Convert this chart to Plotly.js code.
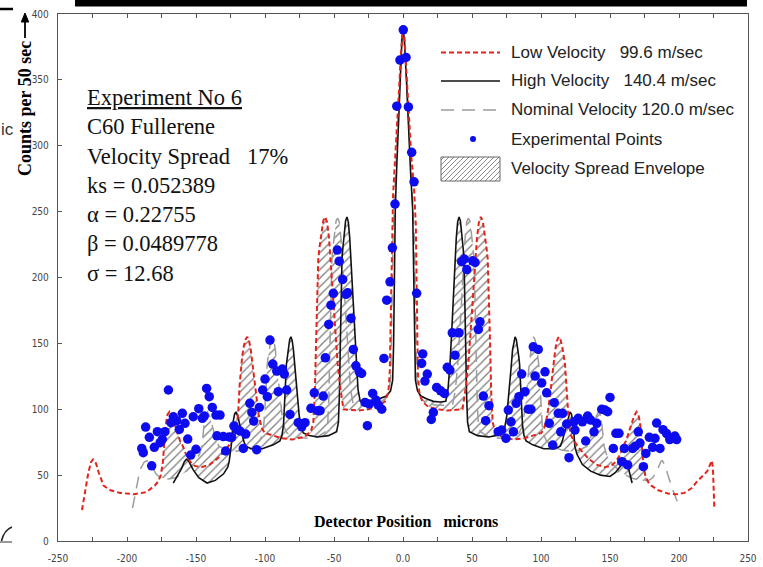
<!DOCTYPE html>
<html>
<head>
<meta charset="utf-8">
<script src="https://cdn.plot.ly/plotly-3.0.1.min.js"></script>
<style>
  html, body { margin: 0; padding: 0; background: #fff; }
  #chart { width: 763px; height: 567px; }
</style>
</head>
<body>
<div id="chart"></div>
<script>
// Detector position (microns) vs counts per 50 s, C60 fullerene run No 6.

// Low velocity (99.6 m/s) curve: [position, counts]
const lowVelocity = [[-232.6,23.5],[-230,40],[-228,52],[-226,60],[-224.6,62],[-222.5,59],[-220.5,52],[-217,42],[-212,38.5],[-205,36.5],[-195,35.5],[-186,37],[-180,42],[-177.5,45],[-175.5,50],[-174,60],[-173,75],[-172,88],[-170.6,96],[-169.2,98],[-167.5,95],[-165.7,89],[-163.6,82],[-161.6,76],[-159.5,72],[-157,65],[-154,60],[-151,57],[-146,56],[-140,58],[-134,63],[-128,70],[-123.9,76],[-121.8,80],[-120.3,88],[-119.3,100],[-118.4,118],[-117.4,134],[-116.55,140],[-115.3,148],[-114.05,153],[-112.8,155],[-111.55,152],[-110.3,145],[-108.6,130],[-106.5,110],[-104.5,95],[-102.4,86],[-100.3,82],[-94,80],[-88,78],[-80,77],[-72,79],[-66.8,83],[-65,90],[-64,110],[-63.1,150],[-62.2,190],[-61.4,214],[-60.6,222],[-59.2,234],[-57.8,243],[-56.4,246],[-55,242],[-53.6,230],[-51.5,200],[-49.4,165],[-47.4,135],[-45.3,115],[-43.1,100],[-38,99.5],[-32,99],[-25,100],[-18,102],[-13,106],[-10.6,113],[-9.6,128],[-9.1,160],[-8.6,200],[-8,240],[-7.2,262],[-6,285],[-4.5,310],[-3,340],[-1.5,370],[-0.5,384],[0,388],[1,383],[2.5,358],[4,325],[6,292],[8,268],[9.3,240],[9.8,200],[10.3,160],[10.8,128],[11.8,113],[14,106],[18,102],[25,100],[32,99],[38,99.5],[43.1,100],[45.3,115],[47.4,135],[49.4,165],[51.5,200],[53.6,230],[55,242],[56.4,246],[57.8,243],[59.2,234],[60.6,222],[61.4,214],[62.2,190],[63.1,150],[64,110],[65,90],[66.8,83],[72,79],[80,77],[88,78],[94,80],[100.3,82],[102.4,86],[104.5,95],[106.5,110],[108.6,130],[110.3,145],[111.55,152],[112.8,155],[114.05,153],[115.3,148],[116.55,140],[117.4,134],[118.4,118],[119.3,100],[120.3,88],[121.8,80],[123.9,76],[128,70],[134,63],[140,58],[146,56],[151,57],[154,60],[157,65],[159.5,72],[161.6,76],[163.6,82],[165.7,89],[167.5,95],[169.2,98],[170.6,96],[172,88],[173,75],[174,60],[175.5,50],[177.5,45],[180,42],[185,38.5],[192,36],[198,35.5],[204,36.5],[209,40],[213,45],[217,49],[220.5,53],[222.5,58],[223.8,61],[224.6,55],[225.2,40],[225.6,25]];

// High velocity (140.4 m/s) curve
const highVelocity = [[-166.5,44],[-163.5,49],[-160.5,55],[-158.5,60],[-157,62],[-155.5,61],[-154,58],[-152,54],[-148,48],[-142,44],[-136,46],[-130,51],[-127,56],[-126,60],[-124.5,72],[-123.7,84],[-123,91],[-122,96.5],[-121,98],[-119.8,95],[-118.5,89],[-117,82],[-115.5,76],[-114,72],[-110,70],[-102,70],[-94,73],[-89.2,76],[-87.7,80],[-86.6,88],[-85.9,100],[-85.2,118],[-84.5,134],[-83.9,140],[-83,148],[-82.1,153],[-81.2,155],[-80.3,152],[-79.4,145],[-78.2,130],[-76.7,110],[-75.2,95],[-73.7,86],[-72.2,82],[-68,80],[-62,79],[-54,80],[-48.1,83],[-46.8,90],[-46.1,110],[-45.4,150],[-44.8,190],[-44.2,214],[-43.6,222],[-42.6,234],[-41.6,243],[-40.6,246],[-39.6,242],[-38.6,230],[-37.1,200],[-35.6,165],[-34.1,135],[-32.6,115],[-31,106],[-27,105.5],[-22,106],[-17,108],[-12,110],[-9,114],[-7.5,122],[-6.8,150],[-6.3,200],[-5.6,252],[-4.5,285],[-3.2,320],[-2,352],[-0.8,380],[0,388],[1,380],[2.5,350],[4,312],[5.5,280],[7,252],[7.8,200],[8.3,150],[9,122],[10.5,114],[13,110],[17,108],[22,106],[27,105.5],[31,106],[32.6,115],[34.1,135],[35.6,165],[37.1,200],[38.6,230],[39.6,242],[40.6,246],[41.6,243],[42.6,234],[43.6,222],[44.2,214],[44.8,190],[45.4,150],[46.1,110],[46.8,90],[48.1,83],[54,80],[62,79],[68,80],[72.2,82],[73.7,86],[75.2,95],[76.7,110],[78.2,130],[79.4,145],[80.3,152],[81.2,155],[82.1,153],[83,148],[83.9,140],[84.5,134],[85.2,118],[85.9,100],[86.6,88],[87.7,80],[89.2,76],[94,73],[102,70],[110,70],[114,72],[115.5,76],[117,82],[118.5,89],[119.8,95],[121,98],[122,96.5],[123,91],[123.7,84],[124.5,72],[126,66],[128,62],[130,58],[136,53],[143,50],[150,49],[154,52],[157,56],[159.5,60],[161,62],[162.3,60],[163.5,54],[165,48],[166,44]];

// Nominal velocity (120.0 m/s) curve
const nominalVelocity = [[-196,25],[-193,42],[-190.6,54],[-187.5,60],[-185.5,61],[-183.5,59],[-181.5,55],[-179,51],[-176,48],[-170,47],[-165,48],[-158,52],[-152.1,58],[-149.8,62],[-147.4,66],[-145.7,72],[-144.7,84],[-143.9,91],[-142.8,96.5],[-141.6,98],[-140.2,95],[-138.7,89],[-136.9,82],[-135.2,76],[-133.4,72],[-128,69],[-122,68],[-115,69],[-108,72],[-103.9,76],[-102.2,80],[-100.9,88],[-100.1,100],[-99.3,118],[-98.4,134],[-97.7,140],[-96.7,148],[-95.6,153],[-94.6,155],[-93.6,152],[-92.5,145],[-91.1,130],[-89.4,110],[-87.6,95],[-85.9,86],[-84.1,82],[-78,79],[-70,78],[-62,79],[-56,83],[-54.5,90],[-53.7,110],[-52.9,150],[-52.2,190],[-51.5,214],[-50.8,222],[-49.6,234],[-48.5,243],[-47.3,245],[-46.1,242],[-45,230],[-43.2,200],[-41.5,165],[-39.7,135],[-38,115],[-36.1,104],[-32,103],[-25,103],[-18,104],[-13,108],[-10,114],[-8.9,125],[-8.3,150],[-7.8,190],[-7.2,230],[-6.3,260],[-5,287],[-3.8,318],[-2.5,350],[-1,381],[0,388],[1,381],[2.5,352],[4,318],[5.5,285],[7,258],[8.2,230],[8.8,190],[9.3,150],[9.9,125],[11,114],[13,108],[18,104],[25,103],[32,103],[36.1,104],[38,115],[39.7,135],[41.5,165],[43.2,200],[45,230],[46.1,242],[47.3,245],[48.5,243],[49.6,234],[50.8,222],[51.5,214],[52.2,190],[52.9,150],[53.7,110],[54.5,90],[56,83],[62,79],[70,78],[78,79],[84.1,82],[85.9,86],[87.6,95],[89.4,110],[91.1,130],[92.5,145],[93.6,152],[94.6,155],[95.6,153],[96.7,148],[97.7,140],[98.4,134],[99.3,118],[100.1,100],[100.9,88],[102.2,80],[103.9,76],[108,72],[115,69],[122,68],[128,69],[133.4,72],[135.2,76],[136.9,82],[138.7,89],[140.2,95],[141.6,98],[142.8,96.5],[143.9,91],[144.7,84],[145.7,72],[147.4,66],[149.8,62],[152.1,58],[158,52],[165,48],[172,46],[178,46],[181,48],[183.5,52],[185.5,57],[187,60.5],[188,61],[189.5,58],[192,50],[195,40],[198,32],[200,27]];

// Velocity spread envelope: upper and lower edges, left lobe then right lobe (null between)
const envelopeUpper = [[-177.5,45],[-175.5,50],[-174,60],[-173,75],[-172,88],[-170.6,96],[-169.2,98],[-167.5,95],[-165.7,89],[-163.6,82],[-161.6,76],[-159.5,72],[-157,65],[-154,60],[-152.1,58],[-149.8,62],[-147.4,66],[-145.7,72],[-144.7,84],[-143.9,91],[-142.8,96.5],[-141.6,98],[-140.2,95],[-138.7,89],[-136.9,82],[-135.2,76],[-133.4,72],[-128,70],[-126,72],[-124.5,75],[-123.7,84],[-123,91],[-122,96.5],[-121,98],[-120.1,96],[-119.3,100],[-118.4,118],[-117.4,134],[-116.55,140],[-115.3,148],[-114.05,153],[-112.8,155],[-111.55,152],[-110.3,145],[-108.6,130],[-106.5,110],[-104.5,95],[-102.4,86],[-101.8,84],[-100.9,88],[-100.1,100],[-99.3,118],[-98.4,134],[-97.7,140],[-96.7,148],[-95.6,153],[-94.6,155],[-93.6,152],[-92.5,145],[-91.1,130],[-89.4,110],[-87.6,95],[-86.5,90],[-85.9,100],[-85.2,118],[-84.5,134],[-83.9,140],[-83,148],[-82.1,153],[-81.2,155],[-80.3,152],[-79.4,145],[-78.2,130],[-76.7,110],[-75.2,95],[-73.7,86],[-72.2,82],[-68,81],[-66.8,83],[-65,90],[-64,110],[-63.1,150],[-62.2,190],[-61.4,214],[-60.6,222],[-59.2,234],[-57.8,243],[-56.4,246],[-55,242],[-53.6,230],[-51.9,204],[-51.5,214],[-50.8,222],[-49.6,234],[-48.5,243],[-47.3,245],[-46.1,242],[-45,230],[-44.1,216],[-43.6,222],[-42.6,234],[-41.6,243],[-40.6,246],[-39.6,242],[-38.6,230],[-37.1,200],[-35.6,165],[-34.1,135],[-32.6,115],[-31,106],[-27,105.5],[-22,106],[-17,108],[-12,110],
  null,
  [11.8,113],[13,110],[17,108],[22,106],[27,105.5],[31,106],[32.6,115],[34.1,135],[35.6,165],[37.1,200],[38.6,230],[39.6,242],[40.6,246],[41.6,243],[42.6,234],[43.6,222],[44.1,216],[45,230],[46.1,242],[47.3,245],[48.5,243],[49.6,234],[50.8,222],[51.5,214],[51.9,204],[53.6,230],[55,242],[56.4,246],[57.8,243],[59.2,234],[60.6,222],[61.4,214],[62.2,190],[63.1,150],[64,110],[65,90],[66.8,83],[68,81],[72.2,82],[73.7,86],[75.2,95],[76.7,110],[78.2,130],[79.4,145],[80.3,152],[81.2,155],[82.1,153],[83,148],[83.9,140],[84.5,134],[85.2,118],[85.9,100],[86.5,90],[87.6,95],[89.4,110],[91.1,130],[92.5,145],[93.6,152],[94.6,155],[95.6,153],[96.7,148],[97.7,140],[98.4,134],[99.3,118],[100.1,100],[100.9,88],[101.8,84],[102.4,86],[104.5,95],[106.5,110],[108.6,130],[110.3,145],[111.55,152],[112.8,155],[114.05,153],[115.3,148],[116.55,140],[117.4,134],[118.4,118],[119.3,100],[120.1,96],[121,98],[122,96.5],[123,91],[123.7,84],[124.5,75],[126,72],[128,70],[133.4,72],[135.2,76],[136.9,82],[138.7,89],[140.2,95],[141.6,98],[142.8,96.5],[143.9,91],[144.7,84],[145.7,72],[147.4,66],[149.8,62],[152.1,58],[154,60],[157,65],[159.5,72],[161.6,76],[163.6,82],[165.7,89],[167.5,95],[169.2,98],[170.6,96],[172,88],[173,75],[174,60],[175.5,50],[177.5,45]];

const envelopeLower = [[-177.5,45],[-176,48],[-170,47],[-165,48],[-158,52],[-154.5,55.5],[-152,54],[-148,48],[-142,44],[-136,46],[-130,51],[-127,56],[-126,60],[-124.5,68],[-122,68],[-115,69],[-110,69.5],[-102,70],[-94,73],[-89.2,76],[-88,77.5],[-80,77],[-72,79],[-68,79],[-62,79],[-54,80],[-48.1,83],[-46.8,90],[-46.1,110],[-45.4,117],[-44.5,110],[-43.1,100],[-38,99.5],[-32,99],[-25,100],[-18,102],[-12,108],
  null,
  [11.8,112],[14,106],[18,102],[25,100],[32,99],[38,99.5],[43.1,100],[44.5,110],[45.4,117],[46.1,110],[46.8,90],[48.1,83],[54,80],[62,79],[68,79],[72,79],[80,77],[88,77.5],[89.2,76],[94,73],[102,70],[110,69.5],[115,69],[122,68],[124.5,68],[126,66],[128,62],[130,58],[136,53],[143,50],[150,49],[154,52],[158,52],[165,48],[172,46],[177.5,45]];

// Experimental counts
const experimentalPoints = [[0.2,388],[-2.2,365],[2.2,367],[3.9,329.5],[-4.5,330],[6.3,295],[8,272.6],[-5.8,255.7],[-7.7,222.5],[-9.4,196.7],[9.9,188],[-11.8,182.8],[-13.8,138.6],
  [14.3,142],[13.5,134.8],[17.6,126.7],[15.9,121.4],[24.4,116.6],[27.3,114],[30,112],[22,97.6],[20.5,92.3],[32.1,131.8],[34,129.7],[37.7,141],[35.7,158],[40.6,158],[42.5,212],[44.4,214],[46.2,206],[50.5,212.7],[52.2,211.4],[55.8,166.4],[54.6,160.6],[58.2,110],[62.3,102.7],[59.9,91.3],[69,83],[71.5,84.2],[74.6,77.9],[76.3,99.4],[78.3,90.5],[80,82.9],[82,104.5],[84,109.5],[86,126.7],[88.4,113.3],[90.8,100],[92.7,100],[94.4,147.4],[98,145.4],[95.7,125.2],[100.5,120],[102.9,128.4],[104.1,112.5],[109.6,105],[106,89.3],[108.5,72.8],[112.5,96.9],[115.7,96.9],[114.3,82.9],[118.6,88.8],[124.6,84.2],[120.3,63.2],[123.9,90.5],[127,93.1],[130,90.5],[133.8,94.8],[136,91.8],[138.4,82.9],[140.4,89.3],[144,100],[146.4,99.4],[148.3,98.1],[150,109],[132.4,75.9],[152.4,70.3],[154.3,81.7],[156.5,81.7],[158.5,60.2],[162.8,57.7],[160.4,70.3],[166.4,70.3],[168.3,72],[171.7,74.3],[170.5,82.9],[174.2,56.4],[176,66.5],[178.5,78.7],[182.6,77.9],[183.8,89.5],[186.2,70.3],[180.9,71.1],[188.4,84.5],[191,81.5],[193.3,77],[197,79.7],[198.3,77],
  [-15.4,100],[-17.9,103.2],[-19.6,107],[-22,112],[-24.4,104],[-27.5,105.2],[-25.8,87.5],[-30,127.2],[-31.7,128.4],[-34.1,133],[-36,145.4],[-37.7,169],[-40.1,188.4],[-41.3,187.2],[-43.7,198.5],[-46.2,212.4],[-47.6,220.8],[-50.5,188],[-52.2,179],[-53.8,164.4],[-56.3,139],[-57.8,110],[-60.1,98.9],[-61.8,98.9],[-64.3,112.5],[-66.7,100.7],[-71,89.8],[-73.4,86.7],[-75.9,89.8],[-81.9,96.1],[-84.3,114.6],[-86,126.7],[-87.4,130.5],[-90.4,113.3],[-91.5,129],[-94.4,134.3],[-96.4,152.5],[-98.3,109.5],[-100,122.9],[-101.7,114.6],[-104.1,101.4],[-109.5,97.6],[-111,104.5],[-108.2,91],[-106,69.3],[-115.7,70.3],[-114,81.2],[-118.1,83.5],[-120.5,84.7],[-122.5,87.2],[-124.2,78.7],[-126,79],[-130.2,79.3],[-134.8,79.8],[-128.5,68.3],[-132.6,95.6],[-135.5,95.6],[-138.2,101.4],[-140.4,109.5],[-142.3,115.8],[-144,94.8],[-145.4,93.1],[-148,100.4],[-150,69.6],[-152,94.3],[-153.8,65.2],[-156,77.4],[-158,89.3],[-159.9,96.9],[-162.1,84.7],[-164,91.3],[-166.4,94.3],[-168.1,89.8],[-170,114.6],[-172.5,83],[-174.4,77.2],[-176,74.6],[-178,83],[-180.2,71.1],[-182.1,57.1],[-183.8,78.7],[-186.5,86.5],[-188.2,67],[-189.3,70.3]];

// Axis ticks
const xTickValues = [-250,-225,-200,-175,-150,-125,-100,-75,-50,-25,0,25,50,75,100,125,150,175,200,225,250];
const xTickLabels = ['-250','','-200','','-150','','-100','','-50','','0.0','','50','','100','','150','','200','','250'];
const yTickValues = [0,50,100,150,200,250,300,350,400];

// Legend entries
const legendLabels = ['Low Velocity\u00a0\u00a0\u00a099.6 m/sec', 'High Velocity\u00a0\u00a0\u00a0140.4 m/sec', 'Nominal Velocity 120.0 m/sec', 'Experimental Points', 'Velocity Spread Envelope'];

// Info block
const infoLines = ['<u>Experiment No 6</u>', 'C60 Fullerene', 'Velocity Spread\u00a0\u00a0\u00a017%', 'ks = 0.052389', '\u03b1 = 0.22755', '\u03b2 = 0.0489778', '\u03c3 = 12.68'];

// ---- drawing ----
const xs = a => a.map(p => p === null ? null : p[0]);
const ys = a => a.map(p => p === null ? null : p[1]);

// split envelope edges into lobes and close each into a polygon
function lobes(arr) {
  const out = []; let cur = [];
  arr.forEach(p => { if (p === null) { out.push(cur); cur = []; } else cur.push(p); });
  out.push(cur);
  return out;
}
const upLobes = lobes(envelopeUpper), loLobes = lobes(envelopeLower);
const hatch = { shape: '/', fgcolor: '#7a7a7a', bgcolor: 'rgba(255,255,255,0)', size: 6, solidity: 0.2 };
const envelopeTraces = upLobes.map((u, i) => {
  const poly = u.concat(loLobes[i].slice().reverse());
  return {
    type: 'scatter', mode: 'lines', x: xs(poly), y: ys(poly),
    fill: 'toself', fillcolor: 'rgba(255,255,255,0)', fillpattern: hatch,
    line: { width: 0 }, hoverinfo: 'skip', showlegend: false
  };
});

const traces = envelopeTraces.concat([
  { type: 'scatter', mode: 'lines', x: xs(nominalVelocity), y: ys(nominalVelocity),
    line: { color: '#9c9c9c', width: 1.5, dash: '12px,8px' }, showlegend: false },
  { type: 'scatter', mode: 'lines', x: xs(highVelocity), y: ys(highVelocity),
    line: { color: '#111111', width: 1.6 }, showlegend: false },
  { type: 'scatter', mode: 'lines', x: xs(lowVelocity), y: ys(lowVelocity),
    line: { color: '#e1251b', width: 2, dash: '5px,3px' }, showlegend: false },
  { type: 'scatter', mode: 'markers', x: xs(experimentalPoints), y: ys(experimentalPoints),
    marker: { color: '#0c0cee', size: 9.5 }, showlegend: false }
]);

// pixel -> paper helpers for the hand-placed decorations
const PL = 58, PR = 748, PT = 14, PB = 541;
const X = px => (px - PL) / (PR - PL);
const Y = py => (PB - py) / (PB - PT);

const legendRows = [52.5, 81, 110, 139, 168];
const symX0 = 441, symX1 = 500, textX = 509;

// hatched key box
const bx0 = 441, bx1 = 500, by0 = 157, by1 = 181;
let hatchPath = '';
for (let c = bx0 + by0 + 3; c < bx1 + by1; c += 5) {
  const sx = Math.max(bx0, c - by1), ex = Math.min(bx1, c - by0);
  if (ex > sx) hatchPath += `M${X(sx)},${Y(c - sx)} L${X(ex)},${Y(c - ex)} `;
}

const shapes = [
  // legend keys
  { type: 'line', xref: 'paper', yref: 'paper', x0: X(symX0), x1: X(symX1), y0: Y(legendRows[0]), y1: Y(legendRows[0]), line: { color: '#e1251b', width: 2, dash: '5px,3px' } },
  { type: 'line', xref: 'paper', yref: 'paper', x0: X(symX0), x1: X(symX1), y0: Y(legendRows[1]), y1: Y(legendRows[1]), line: { color: '#111', width: 1.6 } },
  { type: 'line', xref: 'paper', yref: 'paper', x0: X(symX0), x1: X(symX1), y0: Y(legendRows[2]), y1: Y(legendRows[2]), line: { color: '#9c9c9c', width: 1.5, dash: '13px,8px' } },
  { type: 'circle', xref: 'paper', yref: 'paper', x0: X(470), x1: X(476), y0: Y(legendRows[3] - 3), y1: Y(legendRows[3] + 3), fillcolor: '#0c0cee', line: { width: 0 } },
  { type: 'path', xref: 'paper', yref: 'paper', path: hatchPath, line: { color: '#8a8a8a', width: 1 } },
  { type: 'rect', xref: 'paper', yref: 'paper', x0: X(bx0), x1: X(bx1), y0: Y(by1), y1: Y(by0), line: { color: '#666', width: 1 } },
  // y title arrow
  { type: 'line', xref: 'paper', yref: 'paper', x0: X(25), x1: X(25), y0: Y(38), y1: Y(20), line: { color: '#000', width: 1.8 } },
  { type: 'path', xref: 'paper', yref: 'paper', path: `M${X(21.3)},${Y(22)} L${X(25)},${Y(13)} L${X(28.7)},${Y(22)} Z`, fillcolor: '#000', line: { color: '#000', width: 1 } },
  // page border fragments
  { type: 'rect', xref: 'paper', yref: 'paper', x0: X(75), x1: X(747), y0: Y(6.5), y1: Y(0), fillcolor: '#000', line: { width: 0 } },
  { type: 'line', xref: 'paper', yref: 'paper', x0: X(0), x1: X(13), y0: Y(9), y1: Y(9), line: { color: '#000', width: 2.5 } },
  { type: 'path', xref: 'paper', yref: 'paper', path: `M${X(1.5)},${Y(541)} Q${X(4)},${Y(530)} ${X(12)},${Y(527)}`, line: { color: '#222', width: 1.5 } },
  { type: 'line', xref: 'paper', yref: 'paper', x0: X(0), x1: X(12), y0: Y(542), y1: Y(542), line: { color: '#555', width: 1.2 } }
];

const serif = 'Liberation Serif, Times New Roman, serif';
const sans = 'Liberation Sans, Arial, sans-serif';
const annotations = legendLabels.map((t, i) => ({
  text: t, xref: 'paper', yref: 'paper', x: X(textX), y: Y(legendRows[i]),
  xanchor: 'left', yanchor: 'middle', showarrow: false,
  font: { family: sans, size: 17, color: '#222' }
})).concat([
  { text: infoLines.join('<br>'), xref: 'paper', yref: 'paper', x: X(85), y: Y(185),
    xanchor: 'left', yanchor: 'middle', align: 'left', showarrow: false,
    font: { family: serif, size: 22.5, color: '#111' } },
  { text: '<b>Counts per 50 sec</b>', xref: 'paper', yref: 'paper', x: X(25), y: Y(109),
    xanchor: 'center', yanchor: 'middle', textangle: -90, showarrow: false,
    font: { family: serif, size: 18, color: '#000' } },
  { text: '<b>Detector Position\u00a0\u00a0\u00a0microns</b>', xref: 'paper', yref: 'paper', x: X(406), y: Y(521),
    xanchor: 'center', yanchor: 'middle', showarrow: false, font: { family: serif, size: 16, color: '#000' } },
  { text: 'ic', xref: 'paper', yref: 'paper', x: X(-1), y: Y(129), xanchor: 'left', yanchor: 'middle',
    showarrow: false, font: { family: sans, size: 17, color: '#333' } }
]);

const tickFont = { family: 'DejaVu Sans Condensed, Liberation Sans Narrow, DejaVu Sans, sans-serif', size: 10, color: '#444' };

const layout = {
  width: 763, height: 567,
  margin: { l: PL, r: 763 - PR, t: PT, b: 567 - PB, pad: 0 },
  paper_bgcolor: '#ffffff', plot_bgcolor: '#ffffff',
  showlegend: false,
  xaxis: {
    range: [-250, 250], tickmode: 'array', tickvals: xTickValues, ticktext: xTickLabels,
    ticks: 'inside', ticklen: 4, tickcolor: '#555', showline: true, linecolor: '#555', linewidth: 1.2,
    mirror: 'ticks', showgrid: false, zeroline: false, tickfont: tickFont, ticklabelstandoff: 8
  },
  yaxis: {
    range: [0, 400], tickmode: 'array', tickvals: yTickValues,
    ticks: 'inside', ticklen: 4, tickcolor: '#555', showline: true, linecolor: '#555', linewidth: 1.2,
    mirror: true, showgrid: false, zeroline: false, tickfont: tickFont, ticklabelstandoff: 6
  },
  shapes: shapes,
  annotations: annotations
};

Plotly.newPlot('chart', traces, layout, { displayModeBar: false, staticPlot: true });
</script>
</body>
</html>
